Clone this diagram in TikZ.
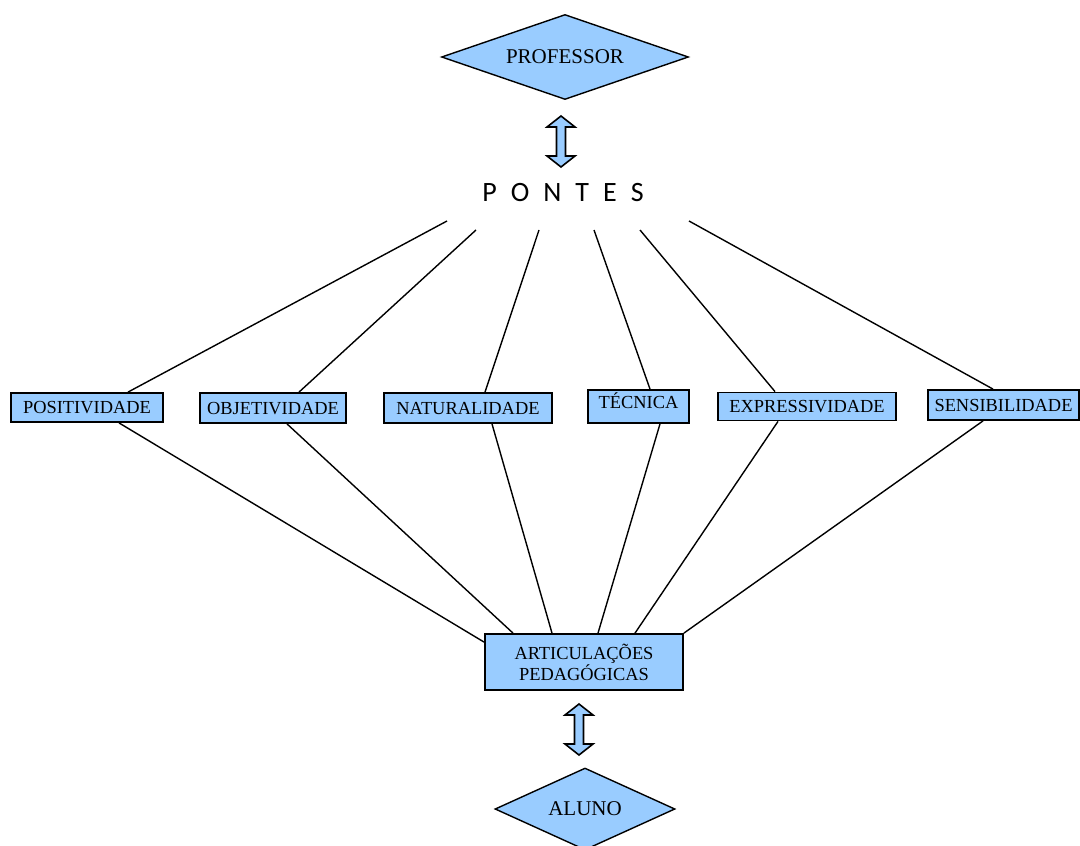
\documentclass[tikz,border=0pt]{standalone}
\usepackage{fontspec}
\setmainfont{Liberation Serif}
\newfontfamily\pontesfont{Carlito}
\usetikzlibrary{shapes.geometric,calc}

\definecolor{boxblue}{RGB}{153,204,255}

\tikzset{
  boxbase/.style={draw, line width=0.9pt, fill=boxblue, inner sep=0pt, font=\fontsize{9.2}{10.5}\selectfont},
  concept/.style={boxbase, text height=6.1pt, text depth=0pt},
  pole/.style={diamond, draw, line width=0.7pt, fill=boxblue, inner sep=0pt, font=\fontsize{10.5}{12}\selectfont},
  link/.style={line width=0.7pt},
  dblarrow/.pic={
    \draw[line width=0.8pt, fill=boxblue] (0,-25.5) -- (14,-14.5) -- (4.5,-14.5) -- (4.5,14.5) -- (14,14.5) -- (0,25.5)
      -- (-14,14.5) -- (-4.5,14.5) -- (-4.5,-14.5) -- (-14,-14.5) -- cycle;
  }
}

\begin{document}
\begin{tikzpicture}[x=0.5pt, y=-0.5pt]

\useasboundingbox (0,0) rectangle (1080,845);
\clip (0,0) rectangle (1080,845);

% Professor and bridges
\node[pole, shape aspect=2.9, minimum width=123.5pt, minimum height=42.5pt] (prof) at (565,57) {PROFESSOR};
\pic at (561,141.5) {dblarrow};
\node[font=\pontesfont\fontsize{14}{16}\selectfont] (pontes) at (563,193)
  {P\hspace{7pt}O\hspace{7pt}N\hspace{7pt}T\hspace{7pt}E\hspace{7pt}S};

% Fan points under PONTES
\coordinate (f1) at (447,221);
\coordinate (f2) at (476,230);
\coordinate (f3) at (539,230);
\coordinate (f4) at (594,230);
\coordinate (f5) at (640,230);
\coordinate (f6) at (689,221);

% Concepts
\node[concept, minimum width=76pt, minimum height=14.5pt] (posit) at (87,407.5) {POSITIVIDADE};
\node[concept, minimum width=73pt, minimum height=15pt] (objet) at (273,408) {OBJETIVIDADE};
\node[concept, minimum width=84pt, minimum height=15pt] (natur) at (468,408) {NATURALIDADE};
\node[concept, minimum width=50.5pt, minimum height=16.5pt, text depth=4pt] (tecn) at (638.5,406.5) {TÉCNICA};
\node[concept, minimum width=89pt, minimum height=14pt] (expr) at (807,406.5) {EXPRESSIVIDADE};
\node[concept, minimum width=75.5pt, minimum height=15pt] (sens) at (1003.5,405) {SENSIBILIDADE};

% Pedagogical articulations and student
\node[boxbase, minimum width=99pt, minimum height=28pt, align=center] (artic) at (584,662) {ARTICULAÇÕES\\PEDAGÓGICAS};
\pic at (579,729.5) {dblarrow};
\node[pole, shape aspect=2.2, minimum width=90pt, minimum height=41pt] (aluno) at (585,809) {ALUNO};

% Ends on the articulations box
\coordinate (a1) at ($(artic.north west)+(0,9)$);
\coordinate (a2) at ($(artic.north)+(-71,0)$);
\coordinate (a3) at ($(artic.north)+(-32,0)$);
\coordinate (a4) at ($(artic.north)+(14,0)$);
\coordinate (a5) at ($(artic.north)+(51,0)$);
\coordinate (a6) at (artic.north east);

% Connectors
\foreach \n/\tx/\bx/\i in {posit/41/32/1, objet/26/14/2, natur/17/24/3, tecn/11.5/21.5/4, expr/-32/-29/5, sens/-10.5/-20.5/6} {
  \draw[link] (f\i) -- ($(\n.north)+(\tx,0)$);
  \draw[link] ($(\n.south)+(\bx,0)$) -- (a\i);
}

\end{tikzpicture}
\end{document}
